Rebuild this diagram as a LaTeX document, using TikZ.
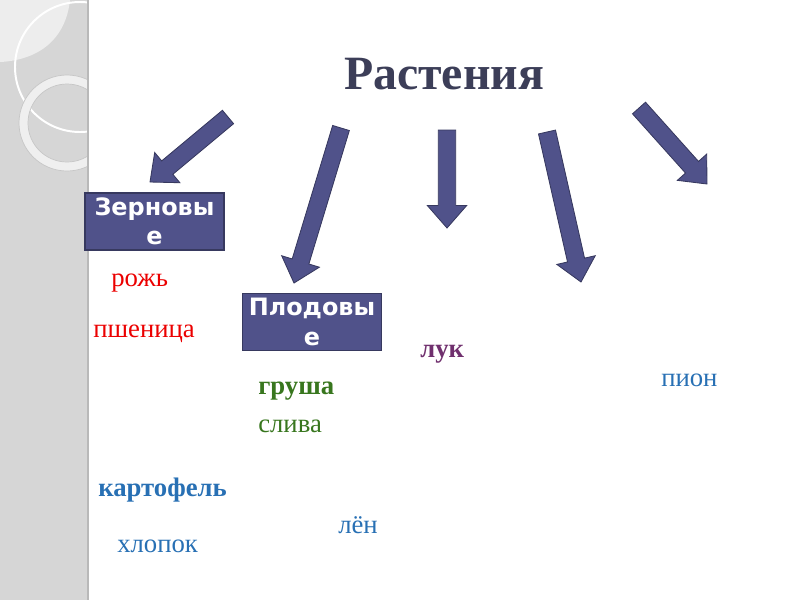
\documentclass[tikz,border=0pt]{standalone}
\usepackage{fontspec}
\setmainfont{Liberation Serif}
\newfontfamily\boxfont{DejaVu Sans}
\usetikzlibrary{calc}

\definecolor{slate}{RGB}{80,82,138}
\definecolor{slateline}{RGB}{55,57,95}
\definecolor{titlegray}{RGB}{60,62,88}
\definecolor{cropred}{RGB}{235,0,0}
\definecolor{cropgreen}{RGB}{56,118,30}
\definecolor{cropblue}{RGB}{40,112,180}
\definecolor{croppurple}{RGB}{112,48,110}
\definecolor{stripgray}{RGB}{214,214,214}

\newcommand{\shaftw}{6.2pt}
\newcommand{\headw}{14pt}
\newcommand{\headl}{16pt}

\tikzset{
    group/.style={
        rectangle, draw=slateline, fill=slate, line width=1pt,
        minimum width=3.475cm, minimum height=1.425cm, inner sep=0pt,
        text=white, align=center,
        font={\boxfont\bfseries\fontsize{17}{21}\selectfont}
    },
    crop/.style={anchor=base west, inner sep=0pt, font={\fontsize{19}{23}\selectfont}},
    cropbold/.style={crop, font={\bfseries\fontsize{19}{23}\selectfont}},
    blockarrow/.style={fill=slate, draw=slateline, line width=0.6pt, line join=miter}
}

% block arrow from a tail coordinate to a tip coordinate
\newcommand{\blockarrow}[2]{%
    \coordinate (neck) at ($(#2)!\headl!(#1)$);
    \draw[blockarrow]
        ($(#1)!\shaftw!90:(#2)$) -- ($(neck)!\shaftw!90:(#2)$) --
        ($(neck)!\headw!90:(#2)$) -- (#2) -- ($(neck)!\headw!-90:(#2)$) --
        ($(neck)!\shaftw!-90:(#2)$) -- ($(#1)!\shaftw!-90:(#2)$) -- cycle;
}

\begin{document}
\begin{tikzpicture}[x=0.025cm, y=-0.025cm]
    \useasboundingbox (0,0) rectangle (800,600);

    % left strip
    \begin{scope}
        \clip (0,0) rectangle (88,600);
        \fill[stripgray] (0,0) rectangle (88,600);
        \fill[white!55!stripgray] (0,0) -- (70,0) .. controls (66,38) and (40,60) .. (0,62) -- cycle;
        \draw[white, line width=1.4pt] (80,67) circle[radius=65];
        \draw[white!60!stripgray, line width=6.4pt] (67,123) circle[radius=43.5];
        \draw[gray!45, line width=0.5pt] (67,123) circle[radius=48];
        \draw[gray!45, line width=0.5pt] (67,123) circle[radius=39];
    \end{scope}
    \draw[gray!55, line width=1.2pt] (88,0) -- (88,600);

    \node[font={\bfseries\fontsize{34}{40}\selectfont}, text=titlegray, anchor=base] (title) at (444,89) {Растения};

    \node[group] (grain) at (154.5,221.5) {Зерновы\\е};
    \node[group] (fruit) at (312,322) {Плодовы\\е};

    \foreach \n/\tx/\ty/\hx/\hy in {1/228/117/150/182, 2/341/128/294/283, 3/447/130/447/228,
                                    4/547/132/581/282, 5/639/108/707/184}{
        \coordinate (tail\n) at (\tx,\ty);
        \coordinate (tip\n) at (\hx,\hy);
        \blockarrow{tail\n}{tip\n}
    }

    \node[crop, text=cropred] (rye) at (111,286) {рожь};
    \node[crop, text=cropred] (wheat) at (93,337) {пшеница};
    \node[cropbold, text=croppurple] (onion) at (420,357) {лук};
    \node[crop, text=cropblue] (peony) at (661,386) {пион};
    \node[cropbold, text=cropgreen] (pear) at (258,394) {груша};
    \node[crop, text=cropgreen] (plum) at (258,432) {слива};
    \node[cropbold, text=cropblue] (potato) at (98,496) {картофель};
    \node[crop, text=cropblue] (flax) at (338,533) {лён};
    \node[crop, text=cropblue] (cotton) at (117,552) {хлопок};
\end{tikzpicture}
\end{document}
